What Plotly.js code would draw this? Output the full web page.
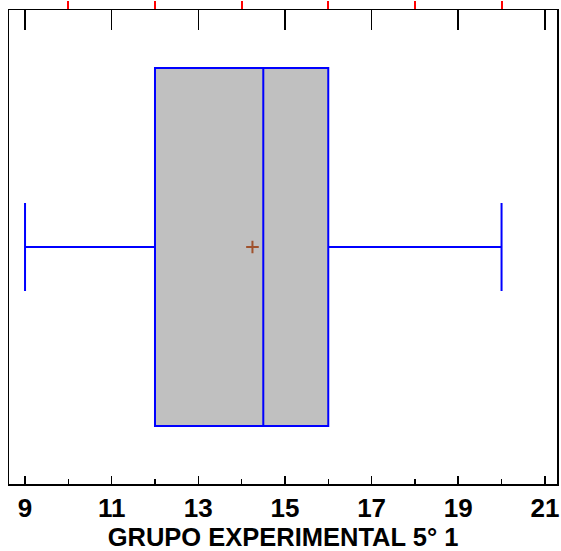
<!DOCTYPE html>
<html>
<head>
<meta charset="utf-8">
<script src="https://cdn.plot.ly/plotly-3.0.1.min.js"></script>
<style>html,body{margin:0;padding:0;background:#fff;}#chart{width:561px;height:551px;}</style>
</head>
<body>
<div id="chart"></div>
<script>
var groupName = ["GRUPO EXPERIMENTAL 5° 1"];
var minVals = [9];
var q1Vals = [12];
var medianVals = [14.5];
var q3Vals = [16];
var maxVals = [20];
var meanVals = [14.25];
var tickVals = [9, 11, 13, 15, 17, 19, 21];
var minorTickVals = [10, 12, 14, 16, 18, 20];

var boxTrace = {
  type: 'box', orientation: 'h', y: [0],
  q1: q1Vals, median: medianVals, q3: q3Vals, lowerfence: minVals, upperfence: maxVals,
  width: 0.755, whiskerwidth: 0.246, fillcolor: '#c0c0c0',
  line: {color: '#0000ff', width: 2}, boxpoints: false, hoverinfo: 'skip', showlegend: false
};
var meanTrace = {
  type: 'scatter', mode: 'markers', x: meanVals, y: [0],
  marker: {symbol: 'cross-thin', size: 9, line: {color: '#a0522d', width: 2}},
  hoverinfo: 'skip', showlegend: false
};
function ghost(xa) {
  return {type: 'scatter', mode: 'markers', x: meanVals, y: [0], xaxis: xa,
          marker: {opacity: 0}, hoverinfo: 'skip', showlegend: false};
}
var fontFam = 'Liberation Sans, Arial, sans-serif';
var range = [8.63, 21.28];
var layout = {
  width: 561, height: 551,
  margin: {l: 9, r: 4, t: 10, b: 67},
  xaxis: {
    range: range, tickvals: tickVals, ticktext: tickVals.map(String),
    ticks: 'inside', ticklen: 8, tickwidth: 1.5, tickcolor: '#000',
    showline: true, linecolor: '#000', linewidth: 1.5, showgrid: false, zeroline: false,
    tickfont: {family: fontFam, size: 26, color: '#000', weight: 'bold'},
    minor: {dtick: 1, tick0: 0, ticks: 'inside', ticklen: 5, tickwidth: 1.5, tickcolor: '#000', showgrid: false},
    title: {text: groupName[0], font: {family: fontFam, size: 25.5, color: '#000', weight: 'bold'}, standoff: 10}
  },
  xaxis2: {
    overlaying: 'x', side: 'top', anchor: 'y', range: range,
    tickvals: tickVals, showticklabels: false,
    ticks: 'inside', ticklen: 20, tickwidth: 1.5, tickcolor: '#000',
    showline: true, linecolor: '#000', linewidth: 1.5, showgrid: false, zeroline: false
  },
  xaxis3: {
    overlaying: 'x', side: 'top', anchor: 'y', range: range,
    tickvals: minorTickVals, showticklabels: false,
    ticks: 'outside', ticklen: 8, tickwidth: 2, tickcolor: 'red',
    showline: false, showgrid: false, zeroline: false
  },
  yaxis: {
    range: [-0.5, 0.5], showticklabels: false, ticks: '',
    showline: true, linecolor: '#000', linewidth: 1.5, mirror: true, showgrid: false, zeroline: false
  }
};
Plotly.newPlot('chart', [boxTrace, meanTrace, ghost('x2'), ghost('x3')], layout, {staticPlot: true, displayModeBar: false});
</script>
</body>
</html>
